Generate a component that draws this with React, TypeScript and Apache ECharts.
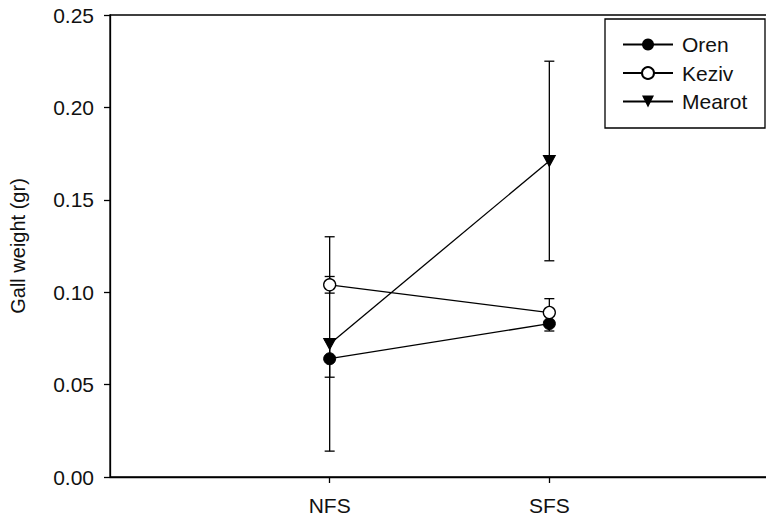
import React, { useEffect, useRef } from "react";
import * as echarts from "echarts";

const categories = ["NFS", "SFS"];
const categoryPos = [1, 2];
const seriesNames = ["Oren", "Keziv", "Mearot"];
const orenMean = [0.064, 0.083];
const orenErr = [0.01, 0.004];
const kezivMean = [0.104, 0.089];
const kezivErr = [0.0045, 0.0075];
const mearotMean = [0.072, 0.171];
const mearotErr = [0.058, 0.054];

const FONT = "Liberation Sans, Arial, sans-serif";

export default function App() {
  const ref = useRef<HTMLDivElement>(null);
  useEffect(() => {
    if (!ref.current) return;
    const chart = echarts.init(ref.current, null, { renderer: "svg" });
    const means = [orenMean, kezivMean, mearotMean];
    const errs = [orenErr, kezivErr, mearotErr];
    const errData: number[][] = [];
    means.forEach((m, si) => {
      m.forEach((v, i) => {
        errData.push([categoryPos[i], v - errs[si][i], v + errs[si][i]]);
      });
    });
    const lineData = (m: number[]) => m.map((v, i) => [categoryPos[i], v]);
    const lineStyle = { color: "#000", width: 1.3 };
    chart.setOption({
      animation: false,
      grid: { left: 109, top: 15, right: 11, bottom: 43, show: true, borderColor: "#000", borderWidth: 1.3 },
      xAxis: {
        type: "value",
        min: 0,
        max: 3,
        interval: 1,
        splitLine: { show: false },
        axisLine: { lineStyle: { color: "#000", width: 1.3 } },
        axisTick: { show: true, length: 6, customValues: categoryPos, lineStyle: { color: "#000", width: 1.3 } },
        axisLabel: {
          customValues: categoryPos,
          formatter: (v: number) => {
            const i = categoryPos.indexOf(v);
            return i >= 0 ? categories[i] : "";
          },
          color: "#111",
          fontFamily: FONT,
          fontSize: 21,
          margin: 18,
        },
      },
      yAxis: {
        type: "value",
        min: 0,
        max: 0.25,
        interval: 0.05,
        name: "Gall weight (gr)",
        nameLocation: "middle",
        nameGap: 82,
        nameTextStyle: { color: "#111", fontFamily: FONT, fontSize: 20 },
        splitLine: { show: false },
        axisLine: { show: true, lineStyle: { color: "#000", width: 1.3 } },
        axisTick: { show: true, length: 6, lineStyle: { color: "#000", width: 1.3 } },
        axisLabel: {
          formatter: (v: number) => v.toFixed(2),
          color: "#111",
          fontFamily: FONT,
          fontSize: 21,
          margin: 16,
        },
      },
      legend: {
        orient: "vertical",
        left: 617,
        top: 29,
        itemWidth: 50,
        itemHeight: 15,
        itemGap: 7.5,
        data: seriesNames,
        textStyle: { color: "#111", fontFamily: FONT, fontSize: 21, lineHeight: 20, padding: [0, 0, 0, 4] },
      },
      graphic: [
        {
          type: "rect",
          shape: { x: 605, y: 19, width: 160, height: 109 },
          style: { fill: "none", stroke: "#000", lineWidth: 1.3 },
          z: 100,
        },
      ],
      series: [
        {
          type: "custom",
          data: errData,
          z: 1,
          renderItem: (params: any, api: any) => {
            const x = api.value(0);
            const lo = api.coord([x, api.value(1)]);
            const hi = api.coord([x, api.value(2)]);
            const hw = 5;
            const st = { stroke: "#000", lineWidth: 1.3 };
            return {
              type: "group",
              children: [
                { type: "line", shape: { x1: lo[0], y1: lo[1], x2: hi[0], y2: hi[1] }, style: st },
                { type: "line", shape: { x1: lo[0] - hw, y1: lo[1], x2: lo[0] + hw, y2: lo[1] }, style: st },
                { type: "line", shape: { x1: hi[0] - hw, y1: hi[1], x2: hi[0] + hw, y2: hi[1] }, style: st },
              ],
            };
          },
        },
        {
          name: "Oren",
          type: "line",
          data: lineData(orenMean),
          symbol: "circle",
          symbolSize: 12,
          lineStyle,
          itemStyle: { color: "#000", borderColor: "#000" },
          z: 3,
        },
        {
          name: "Keziv",
          type: "line",
          data: lineData(kezivMean),
          symbol: "circle",
          symbolSize: 12,
          lineStyle,
          itemStyle: { color: "#fff", borderColor: "#000", borderWidth: 1.3 },
          z: 3,
        },
        {
          name: "Mearot",
          type: "line",
          data: lineData(mearotMean),
          symbol: "triangle",
          symbolRotate: 180,
          symbolSize: [12, 11],
          lineStyle,
          itemStyle: { color: "#000", borderColor: "#000" },
          z: 2,
        },
      ],
    });
    return () => chart.dispose();
  }, []);
  return (
    <div
      ref={ref}
      style={{ position: "fixed", left: 0, top: 0, width: 780, height: 520, background: "#fff" }}
    />
  );
}
